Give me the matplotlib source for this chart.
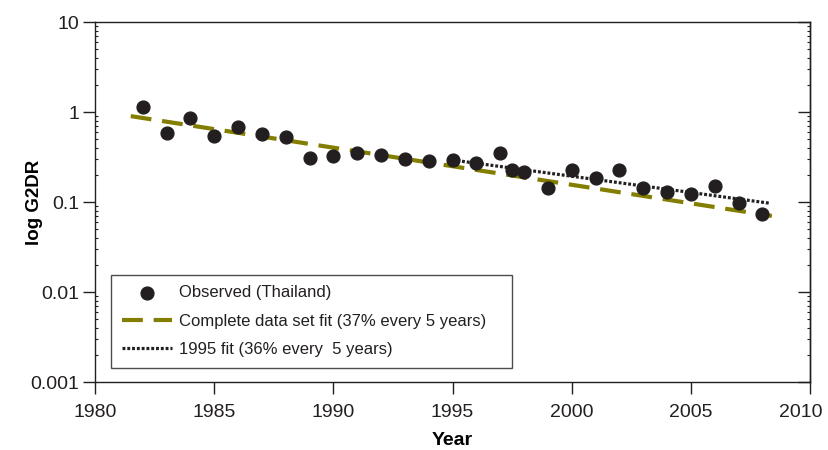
import matplotlib
matplotlib.use('Agg')
import matplotlib.pyplot as plt
import matplotlib.transforms as mtransforms
from matplotlib import rcParams

# Observed G2DR values for Thailand
years = [1982, 1983, 1984, 1985, 1986, 1987, 1988, 1989, 1990, 1991, 1992,
         1993, 1994, 1995, 1996, 1997, 1997.5, 1998, 1999, 2000, 2001, 2002,
         2003, 2004, 2005, 2006, 2007, 2008]
g2dr = [1.15, 0.58, 0.85, 0.54, 0.69, 0.57, 0.53, 0.306, 0.327, 0.353, 0.333,
        0.30, 0.285, 0.293, 0.269, 0.348, 0.227, 0.217, 0.144, 0.227, 0.186,
        0.224, 0.142, 0.128, 0.122, 0.152, 0.098, 0.074]

# Fitted trend lines (end points)
full_fit_years = [1981.5, 2008.4]
full_fit_vals = [0.90, 0.070]
fit95_years = [1995.0, 2008.3]
fit95_vals = [0.293, 0.097]

labels = ['Observed (Thailand)',
          'Complete data set fit (37% every 5 years)',
          '1995 fit (36% every  5 years)']

ink = '#231f20'
olive = '#847e00'

rcParams['font.family'] = ['Liberation Sans', 'DejaVu Sans']
rcParams['text.color'] = ink
rcParams['axes.edgecolor'] = ink
rcParams['xtick.color'] = ink
rcParams['ytick.color'] = ink

fig = plt.figure(figsize=(8.29, 4.5), dpi=100)
ax = fig.add_axes([0.1146, 0.1511, 0.8625, 0.80])

ax.scatter(years, g2dr, s=85, color=ink, zorder=3, label=labels[0])
ax.plot(full_fit_years, full_fit_vals, color=olive, lw=3.0,
        dashes=(5, 2.6), label=labels[1], zorder=2)
ax.plot(fit95_years, fit95_vals, color=ink, lw=2.3,
        dashes=(0.9, 0.6), label=labels[2], zorder=2)

ax.set_yscale('log')
ax.set_ylim(0.001, 10)
ax.set_xlim(1980, 2010)
ax.set_xticks([1980, 1985, 1990, 1995, 2000, 2005, 2010])
ax.set_yticks([0.001, 0.01, 0.1, 1, 10])
ax.set_yticklabels(['0.001', '0.01', '0.1', '1', '10'])
ax.minorticks_off()
ax.yaxis.set_minor_locator(matplotlib.ticker.LogLocator(base=10, subs=range(2, 10)))
ax.yaxis.set_minor_formatter(matplotlib.ticker.NullFormatter())

for s in ax.spines.values():
    s.set_linewidth(1.0)

ax.tick_params(axis='x', which='major', direction='out', length=8.5,
               width=1.0, labelsize=14, pad=7, top=False)
ax.tick_params(axis='y', which='major', direction='out', length=8.5,
               width=1.0, labelsize=14, pad=3, right=False)
ax.tick_params(axis='y', which='minor', direction='in', length=2.5,
               width=0.8, right=False)

# keep the last year label inside the figure
last = ax.get_xticklabels()[-1]
last.set_transform(last.get_transform() +
                   mtransforms.ScaledTranslation(-9 / 100, 0, fig.dpi_scale_trans))

# right-hand ticks point inward
sec = ax.secondary_yaxis('right')
sec.set_yticks([0.001, 0.01, 0.1, 1, 10])
sec.yaxis.set_minor_locator(matplotlib.ticker.LogLocator(base=10, subs=range(2, 10)))
sec.tick_params(which='major', direction='in', length=8.5, width=1.0,
                labelright=False)
sec.tick_params(which='minor', direction='in', length=2.5, width=0.8)
sec.spines['right'].set_linewidth(1.0)

ax.set_xlabel('Year', fontsize=14, fontweight='bold', labelpad=8)
ax.set_ylabel('log G2DR', fontsize=13.5, fontweight='bold')
ax.yaxis.set_label_coords(-0.073, 0.5)

leg = ax.legend(loc='lower left', bbox_to_anchor=(0.0224, 0.039, 0.561, 0.26),
                mode='expand', borderaxespad=0, fancybox=False, frameon=True,
                fontsize=12, handlelength=3.0, handletextpad=0.4,
                labelspacing=0.8, borderpad=0.65, scatterpoints=1)
leg.get_frame().set_edgecolor(ink)
leg.get_frame().set_linewidth(1.0)

fig.savefig('out.png', dpi=100)
